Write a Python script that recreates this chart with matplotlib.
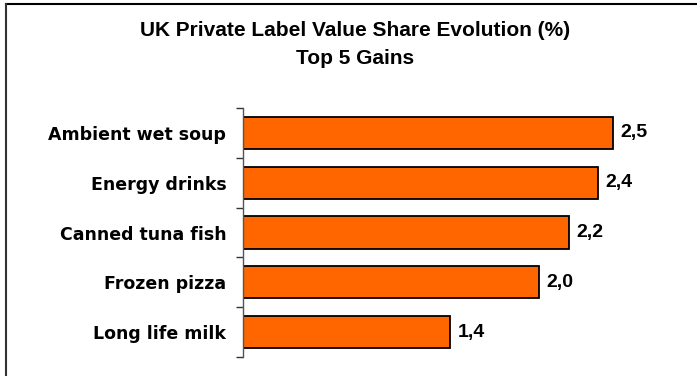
import matplotlib.pyplot as plt
import numpy as np
from matplotlib.lines import Line2D

plt.rcParams['font.family'] = ['Liberation Sans', 'DejaVu Sans']

categories = ["Ambient wet soup", "Energy drinks", "Canned tuna fish",
              "Frozen pizza", "Long life milk"]
gains = [2.5, 2.4, 2.2, 2.0, 1.4]
value_labels = ["2,5", "2,4", "2,2", "2,0", "1,4"]

W, H = 697, 376
fig = plt.figure(figsize=(W / 100, H / 100), dpi=100)
ax = fig.add_axes([243 / W, 1 - 357 / H, (687 - 243) / W, (357 - 108) / H])

y = np.arange(len(categories))
ax.barh(y, gains, height=0.65, color="#FF6600", edgecolor="black", linewidth=1.3)
ax.set_ylim(len(categories) - 0.5, -0.5)
ax.set_xlim(0, 3)

for yi, v, lab in zip(y, gains, value_labels):
    ax.annotate(lab, (v, yi), xytext=(5.5, 0), textcoords="offset points",
                va="center", ha="left", fontsize=14, fontweight="bold")

ax.set_yticks(y)
ax.set_yticklabels(categories, fontsize=12.5, fontweight="bold", family="DejaVu Sans")
ax.tick_params(axis="y", which="major", length=0, pad=12)
ax.set_yticks(np.arange(-0.5, len(categories)), minor=True)
ax.tick_params(axis="y", which="minor", length=5, width=1, color="#333333")
ax.set_xticks([])
for s in ["top", "right", "bottom"]:
    ax.spines[s].set_visible(False)
ax.spines["left"].set_color("#555555")
ax.spines["left"].set_linewidth(1)

fig.text(355 / W, 1 - 31 / H, "UK Private Label Value Share Evolution (%)",
         ha="center", va="center", fontsize=15, fontweight="bold")
fig.text(355 / W, 1 - 59 / H, "Top 5 Gains",
         ha="center", va="center", fontsize=15, fontweight="bold")

# frame lines along the top and left edges
fig.add_artist(Line2D([6 / W, 1], [1 - 4 / H, 1 - 4 / H], color="black", lw=1.5,
                      transform=fig.transFigure))
fig.add_artist(Line2D([6 / W, 6 / W], [0, 1 - 4 / H], color="#333333", lw=1.5,
                      transform=fig.transFigure))

fig.savefig("out.png", dpi=100)
